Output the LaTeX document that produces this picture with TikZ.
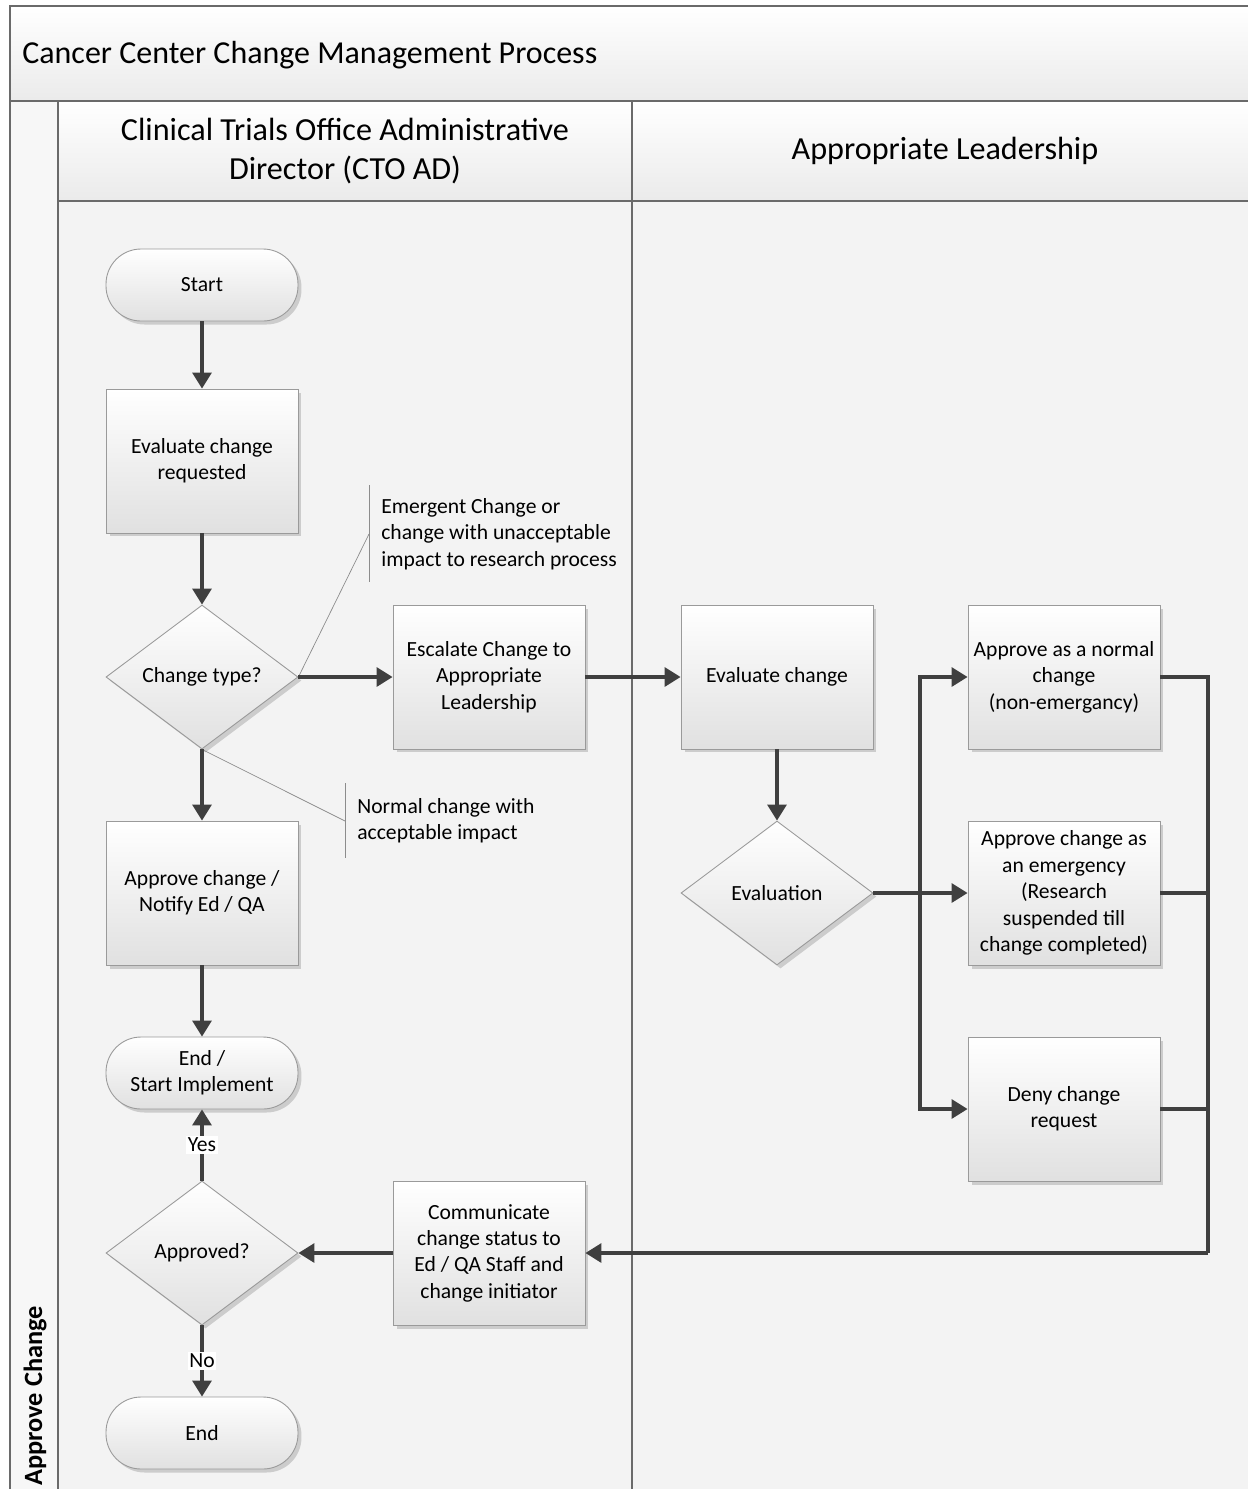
\documentclass[tikz,border=0pt]{standalone}
\usepackage{fontspec}
\setmainfont{Carlito}
\usetikzlibrary{arrows.meta,shapes.geometric,shadows}

\definecolor{lanegray}{HTML}{F3F3F3}
\definecolor{flowgray}{HTML}{3F3F3F}
\definecolor{edgegray}{HTML}{9A9A9A}
\definecolor{framegray}{HTML}{6A6A6A}

\tikzset{
  shade box/.style={draw=edgegray, line width=0.5pt, top color=white, bottom color=black!12,
    drop shadow={shadow xshift=0.07cm, shadow yshift=-0.07cm, fill=black!35, opacity=0.5},
    align=center, font=\fontsize{12.3}{15}\selectfont, inner sep=0pt},
  proc/.style={shade box, rectangle, minimum width=3.84cm, minimum height=2.88cm},
  term/.style={shade box, rectangle, rounded corners=0.7cm, minimum width=3.84cm, minimum height=1.44cm},
  decide/.style={shade box, diamond, aspect=1.333, minimum width=3.84cm, minimum height=2.88cm},
  flow/.style={draw=flowgray, line width=1.8pt, -{Triangle[length=0.32cm,width=0.38cm]}},
  wire/.style={draw=flowgray, line width=1.8pt},
  note/.style={draw=black!45, line width=0.4pt},
  notetext/.style={font=\fontsize{12.3}{15}\selectfont, align=left, inner sep=0pt, anchor=west},
  lane/.style={draw=framegray, line width=1pt},
}

\begin{document}
\begin{tikzpicture}[x=0.02cm,y=-0.02cm]
  \useasboundingbox (0,0) rectangle (1248,1489);
  \clip (0,0) rectangle (1248,1489);
  % Pool and lanes
  \fill[white] (0,0) rectangle (1248,1489);
  \shade[lane, top color=white, bottom color=black!8] (10,6) rectangle (1260,101);
  \fill[black!3] (10,101) rectangle (58,1500);
  \draw[lane] (10,101) rectangle (58,1500);
  \shade[lane, top color=white, bottom color=black!8] (58,101) rectangle (632,201);
  \shade[lane, top color=white, bottom color=black!8] (632,101) rectangle (1260,201);
  \filldraw[lane, fill=lanegray] (58,201) rectangle (632,1500);
  \filldraw[lane, fill=lanegray] (632,201) rectangle (1260,1500);
  \draw[lane] (10,6) -- (10,1500);
  \draw[lane] (10,6) -- (1260,6);
  \node[anchor=west, inner sep=0pt, font=\fontsize{18.2}{22}\selectfont] (title) at (22,55) {Cancer Center Change Management Process};
  \node[align=center, font=\fontsize{18.3}{22.5}\selectfont] (ctohead) at (345,151) {Clinical Trials Office Administrative\\Director (CTO AD)};
  \node[font=\fontsize{18.3}{22.5}\selectfont] (leadhead) at (945,151) {Appropriate Leadership};
  \node[rotate=90, anchor=west, inner sep=0pt, font=\fontsize{15}{18}\bfseries\selectfont] (lanename) at (35,1486) {Approve Change};

  % CTO AD lane
  \node[term] (start) at (202,285) {Start};
  \node[proc] (evalreq) at (202,461) {Evaluate change\\requested};
  \node[decide] (ctype) at (202,677) {Change type?};
  \node[proc] (approve) at (202,893) {Approve change /\\Notify Ed / QA};
  \node[term] (endimpl) at (202,1073) {End /\\Start Implement};
  \node[decide] (approved) at (202,1253) {Approved?};
  \node[term] (finish) at (202,1433) {End};
  \node[proc] (escalate) at (489,677) {Escalate Change to\\Appropriate\\Leadership};
  \node[proc] (comm) at (489,1253) {Communicate\\change status to\\Ed / QA Staff and\\change initiator};

  % Leadership lane
  \node[proc] (evalchg) at (777,677) {Evaluate change};
  \node[decide] (evaluation) at (777,893) {Evaluation};
  \node[proc] (normal) at (1064,677) {Approve as a normal\\change\\(non-emergancy)};
  \node[proc] (emerg) at (1064,893) {Approve change as\\an emergency\\(Research\\suspended till\\change completed)};
  \node[proc] (deny) at (1064,1109) {Deny change\\request};

  % Notes
  \node[notetext] (emnote) at (381,534) {Emergent Change or\\change with unacceptable\\impact to research process};
  \draw[note] (369,485) -- (369,582);
  \coordinate (embrace) at (369,534);
  \draw[note] (ctype.east) -- (embrace);
  \node[notetext] (normnote) at (357,821) {Normal change with\\acceptable impact};
  \draw[note] (345,783) -- (345,858);
  \coordinate (normbrace) at (345,821);
  \draw[note] (ctype.south) -- (normbrace);

  % Connectors
  \draw[flow] (start) -- (evalreq);
  \draw[flow] (evalreq) -- (ctype);
  \draw[flow] (ctype) -- (approve);
  \draw[flow] (ctype) -- (escalate);
  \draw[flow] (approve) -- (endimpl);
  \draw[flow] (escalate) -- (evalchg);
  \draw[flow] (evalchg) -- (evaluation);
  \draw[flow] (evaluation) -- (emerg);
  \coordinate (split) at (920,893);
  \draw[flow] (split) |- (normal.west);
  \draw[flow] (split) |- (deny.west);
  \coordinate (merge) at (1208,1253);
  \draw[wire] (normal.east) -| (merge);
  \draw[wire] (emerg.east) -| (merge);
  \draw[wire] (deny.east) -| (merge);
  \draw[flow] (merge) -- (comm);
  \draw[flow] (comm) -- (approved);
  \draw[flow] (approved) -- node[fill=white, inner sep=1pt, font=\fontsize{12.3}{15}\selectfont] {Yes} (endimpl);
  \draw[flow] (approved) -- node[fill=white, inner sep=1pt, font=\fontsize{12.3}{15}\selectfont] {No} (finish);
\end{tikzpicture}
\end{document}
